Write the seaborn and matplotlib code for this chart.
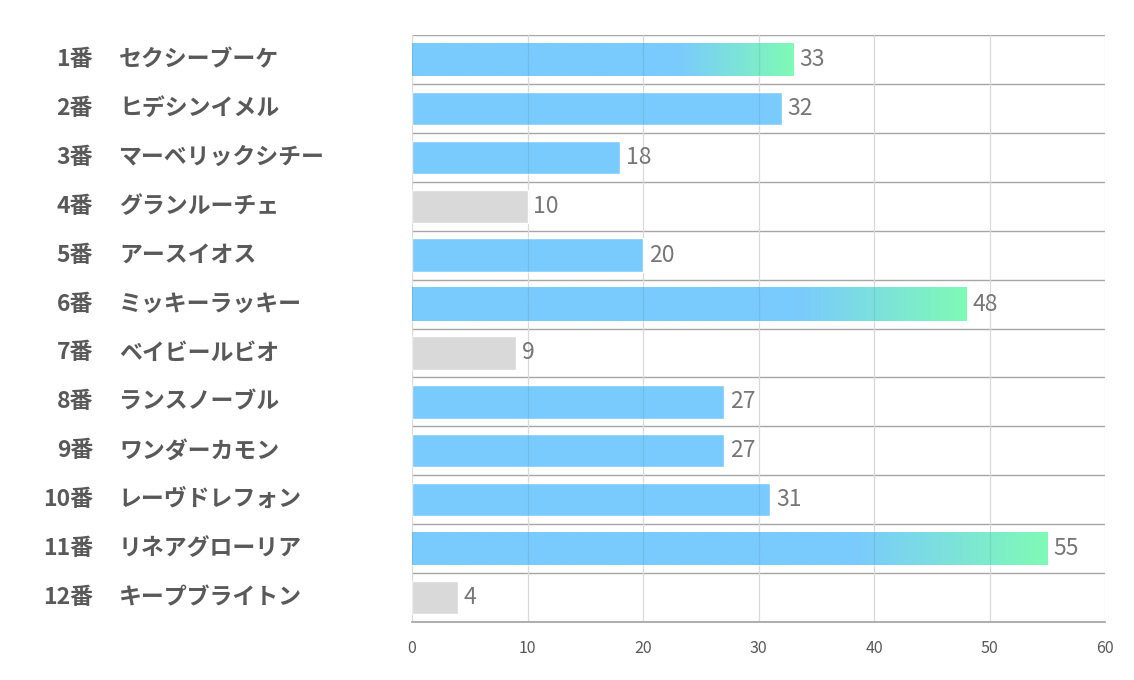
import numpy as np
import pandas as pd
import matplotlib
matplotlib.use("Agg")
import matplotlib.pyplot as plt
import matplotlib.transforms as mtransforms
from matplotlib.colors import LinearSegmentedColormap
import seaborn as sns

# data
numbers = ["1番", "2番", "3番", "4番", "5番", "6番", "7番", "8番", "9番", "10番", "11番", "12番"]
names = ["セクシーブーケ", "ヒデシンイメル", "マーベリックシチー", "グランルーチェ", "アースイオス",
         "ミッキーラッキー", "ベイビールビオ", "ランスノーブル", "ワンダーカモン", "レーヴドレフォン",
         "リネアグローリア", "キープブライトン"]
scores = [33, 32, 18, 10, 20, 48, 9, 27, 27, 31, 55, 4]

BLUE = "#7acbfd"
GREEN = "#7ffab6"
GRAY = "#d9d9d9"
TEXT = "#595959"

sns.set_theme(style="white")
plt.rcParams['font.family'] = ['Noto Sans CJK JP', 'DejaVu Sans']

df = pd.DataFrame({"label": numbers, "name": names, "score": scores})
# gray for low scores, blue otherwise (top three get a gradient overlay)
colors = [GRAY if s <= 10 else BLUE for s in scores]
top3 = sorted(range(len(scores)), key=lambda i: scores[i], reverse=True)[:3]

fig = plt.figure(figsize=(11.34, 6.8), dpi=100)
ax = fig.add_axes([412 / 1134, 1 - 622 / 680, 693 / 1134, 587 / 680])

sns.barplot(data=df, x="score", y="label", hue="label", palette=colors, legend=False,
            orient="h", width=0.68, saturation=1, ax=ax, zorder=2)

ax.set_xlim(0, 60)
ax.set_ylim(len(scores) - 0.5, -0.5)
ax.set_xticks(range(0, 61, 10))
ax.set_xlabel("")
ax.set_ylabel("")
ax.set_yticks([])
ax.tick_params(axis="x", length=0, pad=13, labelsize=11.5, labelcolor=TEXT)

# horizontal separators between rows
for k in range(len(scores) + 1):
    ax.axhline(k - 0.5, color="#a6a6a6", lw=1.0, zorder=1)
for sp in ["top", "right", "left"]:
    ax.spines[sp].set_visible(False)
ax.spines["bottom"].set_color("#a6a6a6")

# gradient on the top three bars
cmap = LinearSegmentedColormap.from_list("bg", [(0, BLUE), (0.7, BLUE), (1, GREEN)])
grad = np.linspace(0, 1, 256).reshape(1, -1)
for i, patch in enumerate(ax.patches):
    if i in top3:
        x0, y0 = patch.get_x(), patch.get_y()
        w, h = patch.get_width(), patch.get_height()
        im = ax.imshow(grad, cmap=cmap, aspect="auto", extent=[x0, x0 + w, y0 + h, y0],
                       zorder=3, interpolation="bicubic")
        im.set_clip_path(patch)
ax.set_xlim(0, 60)
ax.set_ylim(len(scores) - 0.5, -0.5)

# vertical grid, faintly visible through the bars as well
bars = list(ax.patches)
for v in range(0, 61, 10):
    ax.axvline(v, color="#d9d9d9", lw=0.9, zorder=1)
    for p in bars:
        if v < p.get_width():
            y0 = p.get_y()
            ax.plot([v, v], [y0, y0 + p.get_height()], color="black", alpha=0.08, lw=0.9, zorder=5)

# value labels
for i, s in enumerate(scores):
    ax.text(s + 0.5, i, str(s), va="center", ha="left", fontsize=16.5, color="#767676", zorder=6)

# row labels on the left
trans = mtransforms.blended_transform_factory(fig.transFigure, ax.transData)
for i, (n, nm) in enumerate(zip(numbers, names)):
    ax.text(93 / 1134, i, n, transform=trans, ha="right", va="center",
            fontsize=16.5, fontweight="bold", color=TEXT)
    ax.text(119 / 1134, i, nm, transform=trans, ha="left", va="center",
            fontsize=16.5, fontweight="bold", color=TEXT)

fig.savefig("out.png", dpi=100, facecolor="white")
